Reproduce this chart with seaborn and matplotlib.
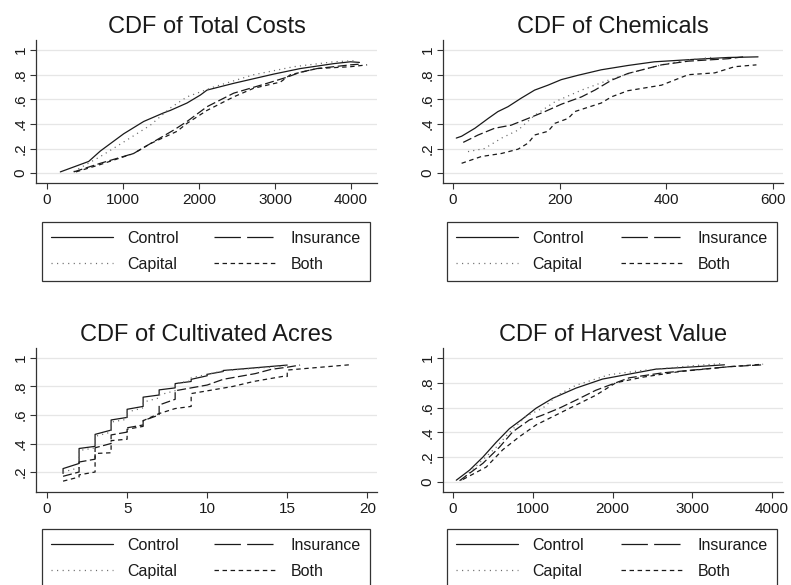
import numpy as np
import pandas as pd
import matplotlib
matplotlib.use("Agg")
import matplotlib.pyplot as plt
from matplotlib.lines import Line2D
import seaborn as sns

# groups and their line looks
groups = ["Control", "Capital", "Insurance", "Both"]

# CDF of Total Costs
costs = {
    "Control": ([175, 548, 702, 1009, 1272, 1535, 1623, 1842, 2018, 2105, 2456, 2982, 3333, 3772, 3991, 4110],
                [0.01, 0.095, 0.18, 0.32, 0.42, 0.49, 0.51, 0.57, 0.635, 0.675, 0.73, 0.805, 0.85, 0.89, 0.905, 0.90]),
    "Capital": ([351, 702, 1053, 1360, 1623, 1842, 2193, 2719, 3246, 3772, 4079],
                [0.013, 0.135, 0.27, 0.39, 0.53, 0.62, 0.70, 0.80, 0.865, 0.905, 0.915]),
    "Insurance": ([351, 702, 1140, 1360, 1667, 1842, 2105, 2456, 2895, 3158, 3333, 3553, 3991, 4100],
                  [0.01, 0.08, 0.16, 0.24, 0.35, 0.42, 0.54, 0.65, 0.73, 0.78, 0.82, 0.85, 0.88, 0.885]),
    "Both": ([380, 702, 1140, 1360, 1711, 1842, 2105, 2456, 2719, 3070, 3202, 3553, 3991, 4211],
             [0.01, 0.07, 0.16, 0.24, 0.34, 0.405, 0.51, 0.62, 0.69, 0.74, 0.80, 0.85, 0.865, 0.88]),
}

# CDF of Chemicals
chemicals = {
    "Control": ([6, 16, 41, 66, 84, 103, 128, 153, 178, 203, 234, 278, 328, 378, 453, 516, 572],
                [0.285, 0.30, 0.365, 0.445, 0.50, 0.54, 0.61, 0.675, 0.715, 0.76, 0.795, 0.84, 0.875, 0.905, 0.925, 0.94, 0.945]),
    "Capital": ([28, 59, 91, 122, 153, 191, 241, 291, 341, 391, 441, 484],
                [0.175, 0.20, 0.285, 0.35, 0.47, 0.58, 0.675, 0.755, 0.825, 0.88, 0.92, 0.94]),
    "Insurance": ([19, 47, 78, 109, 141, 172, 203, 241, 266, 297, 328, 391, 441, 516, 544],
                  [0.25, 0.31, 0.365, 0.39, 0.445, 0.50, 0.56, 0.62, 0.675, 0.755, 0.81, 0.88, 0.91, 0.93, 0.945]),
    "Both": ([16, 53, 91, 122, 141, 153, 178, 191, 216, 228, 278, 297, 328, 391, 441, 491, 528, 569],
             [0.08, 0.135, 0.16, 0.195, 0.245, 0.31, 0.34, 0.405, 0.445, 0.50, 0.57, 0.62, 0.67, 0.715, 0.80, 0.815, 0.865, 0.88]),
}

# CDF of Cultivated Acres (step shaped)
acres = {
    "Control": ([1, 1, 2, 2, 3, 3, 4, 4, 5, 5, 6, 6, 7, 7, 8, 8, 9, 9, 10, 10, 11, 11, 15],
                [0.19, 0.224, 0.26, 0.365, 0.38, 0.464, 0.494, 0.565, 0.583, 0.64, 0.66, 0.725, 0.74, 0.776, 0.79, 0.82,
                 0.835, 0.85, 0.875, 0.885, 0.905, 0.912, 0.95]),
    "Capital": ([1, 2, 2, 3, 3, 4, 4, 5, 5, 6, 6, 7, 7, 8, 8, 9, 9, 10, 11, 15],
                [0.20, 0.23, 0.35, 0.37, 0.45, 0.48, 0.55, 0.57, 0.62, 0.65, 0.69, 0.72, 0.74, 0.77, 0.82, 0.84, 0.86,
                 0.885, 0.91, 0.945]),
    "Insurance": ([1, 2, 2, 3, 3, 4, 4, 5, 5, 6, 6, 7, 7, 8, 8, 9, 10, 11, 13, 14, 15, 15.8],
                  [0.17, 0.20, 0.27, 0.29, 0.37, 0.40, 0.46, 0.48, 0.51, 0.53, 0.56, 0.60, 0.67, 0.71, 0.77, 0.79, 0.81,
                   0.85, 0.89, 0.92, 0.935, 0.95]),
    "Both": ([1, 2, 2, 3, 3, 4, 4, 5, 5, 6, 6, 7, 8, 9, 9, 11.6, 12.9, 14.7, 15, 15, 19],
             [0.136, 0.165, 0.18, 0.20, 0.33, 0.335, 0.42, 0.43, 0.50, 0.52, 0.56, 0.61, 0.645, 0.66, 0.75, 0.80,
              0.835, 0.87, 0.87, 0.915, 0.953]),
}

# CDF of Harvest Value
harvest = {
    "Control": ([42, 208, 375, 542, 708, 875, 1042, 1250, 1542, 1875, 2208, 2542, 3046, 3403],
                [0.014, 0.095, 0.20, 0.32, 0.43, 0.51, 0.595, 0.675, 0.757, 0.83, 0.87, 0.91, 0.93, 0.945]),
    "Capital": ([105, 375, 542, 708, 917, 1125, 1312, 1542, 1958, 2375, 3046, 3382],
                [0.013, 0.18, 0.28, 0.40, 0.53, 0.595, 0.70, 0.78, 0.865, 0.90, 0.94, 0.955]),
    "Insurance": ([83, 375, 583, 750, 958, 1125, 1333, 1542, 1792, 1958, 2208, 2626, 3046, 3466, 3887],
                  [0.01, 0.15, 0.28, 0.405, 0.50, 0.54, 0.595, 0.66, 0.74, 0.78, 0.84, 0.88, 0.905, 0.93, 0.945]),
    "Both": ([125, 417, 625, 833, 1042, 1292, 1542, 1792, 2042, 2375, 2836, 3466, 3887],
             [0.02, 0.12, 0.26, 0.365, 0.46, 0.54, 0.62, 0.70, 0.80, 0.845, 0.89, 0.93, 0.95]),
}

panels = [
    ("CDF of Total Costs", costs, [0, 1000, 2000, 3000, 4000], (-145, 4340), [0, .2, .4, .6, .8, 1], (-0.081, 1.081)),
    ("CDF of Chemicals", chemicals, [0, 200, 400, 600], (-19, 619), [0, .2, .4, .6, .8, 1], (-0.081, 1.081)),
    ("CDF of Cultivated Acres", acres, [0, 5, 10, 15, 20], (-0.69, 20.6), [.2, .4, .6, .8, 1], (0.06, 1.07)),
    ("CDF of Harvest Value", harvest, [0, 1000, 2000, 3000, 4000], (-125, 4138), [0, .2, .4, .6, .8, 1], (-0.081, 1.081)),
]

sns.set_theme(style="ticks")
plt.rcParams["font.family"] = ["Liberation Sans", "DejaVu Sans"]
plt.rcParams["lines.scale_dashes"] = False

ink = "#1a1a1a"
styles = {
    "Control": dict(color=ink, linestyle="-"),
    "Capital": dict(color="#6a6a6a", linestyle=(0, (0.8, 3.0))),
    "Insurance": dict(color=ink, linestyle=(0, (6.5, 2.5))),
    "Both": dict(color=ink, linestyle=(0, (3.2, 2.6))),
}
legend_styles = {
    "Control": dict(color=ink, linestyle="-"),
    "Capital": dict(color="#6a6a6a", linestyle=(0, (0.8, 3.2))),
    "Insurance": dict(color=ink, linestyle=(0, (19, 4.5))),
    "Both": dict(color=ink, linestyle=(0, (3.2, 2.6))),
}

fig = plt.figure(figsize=(7.91, 5.85), dpi=100)

# axes boxes in figure fractions: left, bottom, width, height
boxes = [
    (0.0455, 0.687, 0.431, 0.2444),
    (0.560, 0.687, 0.430, 0.2444),
    (0.0455, 0.159, 0.431, 0.2462),
    (0.560, 0.159, 0.430, 0.2462),
]
legend_boxes = [
    (0.0531, 0.6205, 0.4147),
    (0.5651, 0.6205, 0.4172),
    (0.0531, 0.0957, 0.4147),
    (0.5651, 0.0957, 0.4172),
]

for (title, data, xt, xl, yt, yl), box, lb in zip(panels, boxes, legend_boxes):
    ax = fig.add_axes(box)
    for g in ["Control", "Capital", "Insurance", "Both"]:
        xs, ys = data[g]
        df = pd.DataFrame({"x": xs, "y": ys})
        sns.lineplot(data=df, x="x", y="y", ax=ax, estimator=None, sort=False,
                     linewidth=0.9, **styles[g])
    ax.set_xlim(*xl)
    ax.set_ylim(*yl)
    ax.set_xticks(xt)
    ax.set_yticks(yt)
    ax.set_yticklabels([("%g" % v).replace("0.", ".") for v in yt])
    for v in yt:
        ax.axhline(v, color="#e6e6e6", linewidth=0.9, zorder=0)
    ax.set_xlabel("")
    ax.set_ylabel("")
    ax.set_title(title, fontsize=17, pad=5, color=ink)
    sns.despine(ax=ax)
    for s in ["left", "bottom"]:
        ax.spines[s].set_color("#333333")
        ax.spines[s].set_linewidth(0.9)
    ax.tick_params(axis="both", labelsize=11, length=4, width=0.8, color="#333333", labelcolor=ink, pad=3)
    ax.tick_params(axis="y", labelrotation=90, pad=2)
    for lab in ax.get_yticklabels():
        lab.set_va("center")

    handles = [Line2D([], [], linewidth=0.9, **legend_styles[g]) for g in groups]
    leg = ax.legend(handles, groups, ncol=2, loc="upper left",
                    bbox_to_anchor=(lb[0], lb[1] - 0.1, lb[2], 0.1),
                    bbox_transform=fig.transFigure, mode="expand", borderaxespad=0,
                    fontsize=11.5, handlelength=3.9, handletextpad=0.9, labelspacing=0.69,
                    borderpad=0.55, fancybox=False, framealpha=1, edgecolor="#333333")
    leg.get_frame().set_linewidth(0.9)
    for t in leg.get_texts():
        t.set_color(ink)

fig.savefig("out.png", dpi=100)
